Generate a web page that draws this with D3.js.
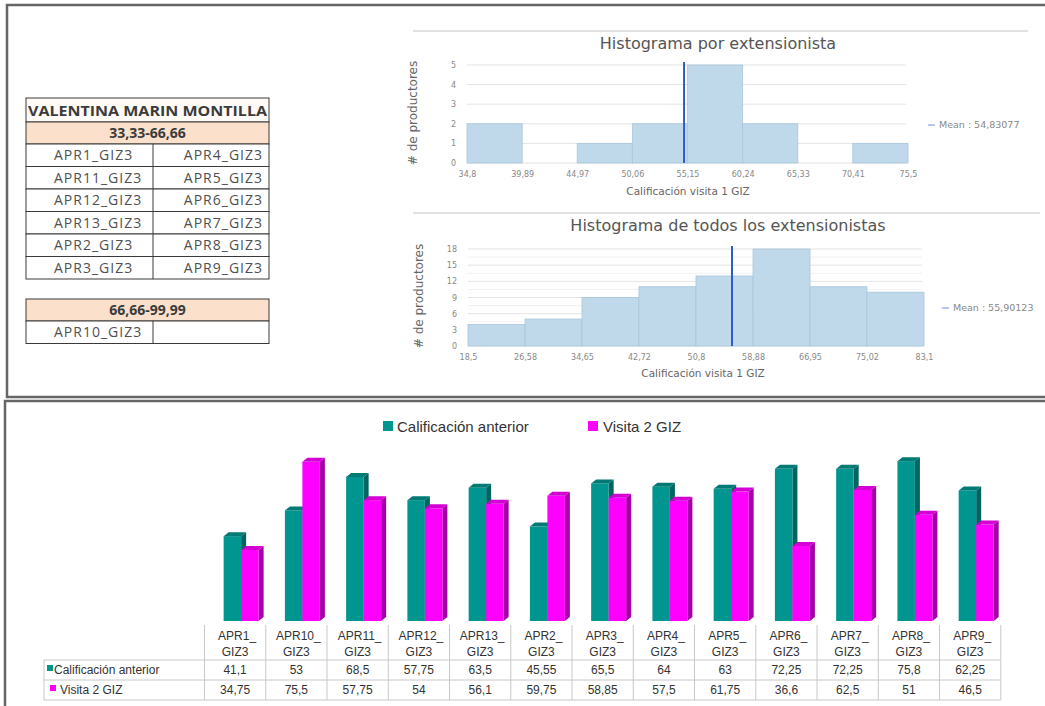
<!DOCTYPE html>
<html>
<head>
<meta charset="utf-8">
<script src="https://cdn.jsdelivr.net/npm/d3@7"></script>
<style>
  body { margin: 0; background: #fff; }
  svg { display: block; }
</style>
</head>
<body>
<div id="chart"></div>
<script>
// grupo del extensionista
const extName = 'VALENTINA MARIN MONTILLA';
const range1 = '33,33-66,66';
const range1Left = ['APR1_GIZ3', 'APR11_GIZ3', 'APR12_GIZ3', 'APR13_GIZ3', 'APR2_GIZ3', 'APR3_GIZ3'];
const range1Right = ['APR4_GIZ3', 'APR5_GIZ3', 'APR6_GIZ3', 'APR7_GIZ3', 'APR8_GIZ3', 'APR9_GIZ3'];
const range2 = '66,66-99,99';
const range2Left = ['APR10_GIZ3'];

// histogramas
const hist1Edges = [34.8, 39.89, 44.97, 50.06, 55.15, 60.24, 65.33, 70.41, 75.5];
const hist1Counts = [2, 0, 1, 2, 5, 2, 0, 1];
const hist1Mean = 54.83077;
const hist1YTicks = [0, 1, 2, 3, 4, 5];
const hist2Edges = [18.5, 26.58, 34.65, 42.72, 50.8, 58.88, 66.95, 75.02, 83.1];
const hist2Counts = [4, 5, 9, 11, 13, 18, 11, 10];
const hist2Mean = 55.90123;
const hist2YTicks = [0, 3, 6, 9, 12, 15, 18];

// barras
const categories = ['APR1_GIZ3', 'APR10_GIZ3', 'APR11_GIZ3', 'APR12_GIZ3', 'APR13_GIZ3', 'APR2_GIZ3', 'APR3_GIZ3',
                    'APR4_GIZ3', 'APR5_GIZ3', 'APR6_GIZ3', 'APR7_GIZ3', 'APR8_GIZ3', 'APR9_GIZ3'];
const anterior = [41.1, 53, 68.5, 57.75, 63.5, 45.55, 65.5, 64, 63, 72.25, 72.25, 75.8, 62.25];
const visita2 = [34.75, 75.5, 57.75, 54, 56.1, 59.75, 58.85, 57.5, 61.75, 36.6, 62.5, 51, 46.5];
const seriesNames = ['Calificación anterior', 'Visita 2 GIZ'];

const comma = d => String(d).replace('.', ',');

const w = 1045;
const h = 706;
const svg = d3.select('#chart').append('svg').attr('width', w).attr('height', h);

// marcos
svg.append('rect').attr('x', 7).attr('y', 5).attr('width', 1060).attr('height', 392)
   .attr('fill', 'none').attr('stroke', '#666').attr('stroke-width', 2.5);
svg.append('rect').attr('x', 5).attr('y', 401).attr('width', 1060).attr('height', 320)
   .attr('fill', 'none').attr('stroke', '#666').attr('stroke-width', 2.5);

// ---------- tabla del extensionista ----------
const tx0 = 26, tx1 = 269, tmid = 153;
const tbl = svg.append('g').attr('font-family', 'Open Sans, sans-serif');

function cellRow(y0, y1, fill) {
  tbl.append('rect').attr('x', tx0).attr('y', y0).attr('width', tx1 - tx0).attr('height', y1 - y0)
     .attr('fill', fill).attr('stroke', '#3a3a3a').attr('stroke-width', 1);
}

cellRow(98, 122, '#fffaf6');
tbl.append('text').text(extName).attr('x', tx0 + 2).attr('y', 116)
   .attr('textLength', tx1 - tx0 - 4).attr('lengthAdjust', 'spacingAndGlyphs')
   .attr('font-size', 15).attr('font-weight', 'bold').attr('fill', '#3b3b3b');

function rangeBlock(y, title, left, right) {
  cellRow(y, y + 22, '#fbe0cc');
  tbl.append('text').text(title).attr('x', (tx0 + tx1) / 2).attr('y', y + 16)
     .attr('text-anchor', 'middle').attr('font-size', 14).attr('font-weight', 'bold').attr('fill', '#3b3b3b');
  const rh = 22.5;
  left.forEach((d, i) => {
    const ry = y + 22 + i * rh;
    cellRow(ry, ry + rh, '#fff');
    tbl.append('line').attr('x1', tmid).attr('x2', tmid).attr('y1', ry).attr('y2', ry + rh)
       .attr('stroke', '#3a3a3a');
    tbl.append('text').text(d).attr('x', 54).attr('y', ry + 16)
       .attr('font-size', 14).attr('letter-spacing', 1).attr('fill', '#505050');
    if (right[i]) {
      tbl.append('text').text(right[i]).attr('x', 263).attr('y', ry + 16).attr('text-anchor', 'end')
         .attr('font-size', 14).attr('letter-spacing', 1).attr('fill', '#505050');
    }
  });
}
rangeBlock(122, range1, range1Left, range1Right);
rangeBlock(299, range2, range2Left, []);

// ---------- histogramas ----------
function histogram(o) {
  const g = svg.append('g').attr('font-family', 'DejaVu Sans, Verdana, sans-serif');
  const x = d3.scaleLinear().domain([o.edges[0], o.edges[o.edges.length - 1]]).range(o.xRange);
  const y = d3.scaleLinear().domain([0, d3.max(o.yTicks)]).range(o.yRange);

  g.append('line').attr('x1', 413).attr('x2', o.lineEnd).attr('y1', o.lineY).attr('y2', o.lineY)
   .attr('stroke', '#e2e2e2').attr('stroke-width', 2);
  g.append('text').text(o.title).attr('x', o.titleX).attr('y', o.lineY + 18)
   .attr('text-anchor', 'middle').attr('font-size', 16).attr('fill', '#555');

  // rejilla
  g.selectAll('.grid').data(o.grid).enter().append('line')
   .attr('x1', o.xRange[0]).attr('x2', o.xRange[1] - 2)
   .attr('y1', d => y(d)).attr('y2', d => y(d))
   .attr('stroke', d => o.yTicks.includes(d) ? '#e4e4e4' : '#f0f0f0').attr('stroke-width', 1);

  const bins = o.counts.map((c, i) => ({ x0: o.edges[i], x1: o.edges[i + 1], c: c }));
  g.selectAll('.bin').data(bins).enter().append('rect')
   .attr('x', d => x(d.x0)).attr('width', d => x(d.x1) - x(d.x0))
   .attr('y', d => y(d.c)).attr('height', d => y(0) - y(d.c))
   .attr('fill', '#bfd9ea').attr('stroke', '#a8c6da').attr('stroke-width', 0.8);

  g.append('line').attr('x1', x(o.mean)).attr('x2', x(o.mean))
   .attr('y1', y(d3.max(o.yTicks)) - 3).attr('y2', y(0))
   .attr('stroke', '#2f5ccc').attr('stroke-width', 2);

  const ya = g.append('g').attr('transform', 'translate(' + (o.xRange[0] - 9) + ',0)')
    .call(d3.axisLeft(y).tickValues(o.yTicks).tickSize(0).tickPadding(2).tickFormat(d3.format('d')));
  ya.select('.domain').remove();
  ya.selectAll('text').attr('font-size', 8).attr('fill', '#888').attr('font-family', 'DejaVu Sans, sans-serif');

  const xa = g.append('g').attr('transform', 'translate(0,' + y(0) + ')')
    .call(d3.axisBottom(x).tickValues(o.edges).tickSize(0).tickPadding(o.xPad).tickFormat(comma));
  xa.select('.domain').remove();
  xa.selectAll('text').attr('font-size', 8).attr('fill', '#888').attr('font-family', 'DejaVu Sans, sans-serif');

  g.append('text').text('Calificación visita 1 GIZ').attr('x', o.xTitleX).attr('y', o.xTitleY)
   .attr('text-anchor', 'middle').attr('font-size', 10.5).attr('fill', '#666');
  g.append('text').text('# de productores')
   .attr('transform', 'translate(' + o.yTitleX + ',' + o.yTitleY + ') rotate(-90)')
   .attr('text-anchor', 'middle').attr('font-size', 12).attr('fill', '#666');

  g.append('line').attr('x1', o.legX).attr('x2', o.legX + 7).attr('y1', o.legY - 3).attr('y2', o.legY - 3)
   .attr('stroke', '#9fb3e6').attr('stroke-width', 1.5);
  g.append('text').text('Mean : ' + comma(o.mean)).attr('x', o.legX + 11).attr('y', o.legY)
   .attr('font-size', 9.5).attr('fill', '#888');
}

histogram({
  edges: hist1Edges, counts: hist1Counts, mean: hist1Mean, yTicks: hist1YTicks, grid: hist1YTicks,
  xRange: [467, 908], yRange: [163, 65], xPad: 8,
  lineY: 31, lineEnd: 1028, title: 'Histograma por extensionista', titleX: 718,
  xTitleX: 688, xTitleY: 195, yTitleX: 417, yTitleY: 113, legX: 928, legY: 128
});
histogram({
  edges: hist2Edges, counts: hist2Counts, mean: hist2Mean, yTicks: hist2YTicks, grid: d3.range(0, 19, 1.5),
  xRange: [468, 924], yRange: [346, 249], xPad: 8,
  lineY: 213, lineEnd: 1040, title: 'Histograma de todos los extensionistas', titleX: 728,
  xTitleX: 703, xTitleY: 377, yTitleX: 423, yTitleY: 296, legX: 942, legY: 311
});

// ---------- barras 3D ----------
const bars = svg.append('g').attr('font-family', 'Liberation Sans, Arial, sans-serif');
const xBand = d3.scaleBand().domain(categories).range([204.5, 1000.8]);
const yBar = d3.scaleLinear().domain([0, 80]).range([625, 452.1]);
const base = 621;
const bw = 17.5, dx = 5, dy = 4;
const colors = [
  { front: '#00958e', side: '#006461', top: '#007a75' },
  { front: '#ff00ff', side: '#a800a8', top: '#d400d4' }
];

function bar3d(x0, v, c) {
  const yt = yBar(v);
  bars.append('polygon')
      .attr('points', [[x0 + bw, yt], [x0 + bw + dx, yt - dy], [x0 + bw + dx, base - dy], [x0 + bw, base]].join(' '))
      .attr('fill', c.side);
  bars.append('rect').attr('x', x0).attr('y', yt).attr('width', bw).attr('height', base - yt).attr('fill', c.front);
  bars.append('polygon')
      .attr('points', [[x0, yt], [x0 + dx, yt - dy], [x0 + bw + dx, yt - dy], [x0 + bw, yt]].join(' '))
      .attr('fill', c.top);
}
categories.forEach((cat, i) => {
  const cx = xBand(cat) + xBand.bandwidth() / 2;
  bar3d(cx - 11.5, anterior[i], colors[0]);
  bar3d(cx + 6, visita2[i], colors[1]);
});

// leyenda
bars.append('rect').attr('x', 383).attr('y', 421).attr('width', 10).attr('height', 10).attr('fill', colors[0].front);
bars.append('text').text(seriesNames[0]).attr('x', 397).attr('y', 432).attr('font-size', 15).attr('fill', '#333');
bars.append('rect').attr('x', 588).attr('y', 421).attr('width', 10).attr('height', 10).attr('fill', colors[1].front);
bars.append('text').text(seriesNames[1]).attr('x', 603).attr('y', 432).attr('font-size', 15).attr('fill', '#333');

// tabla de datos
const rowLines = [660, 680, 700];
rowLines.forEach(y => {
  bars.append('line').attr('x1', 44).attr('x2', 1000.8).attr('y1', y).attr('y2', y).attr('stroke', '#c8c8c8');
});
bars.append('line').attr('x1', 44).attr('x2', 44).attr('y1', 660).attr('y2', 700).attr('stroke', '#c8c8c8');
categories.concat(['end']).forEach((cat, i) => {
  const xx = i < categories.length ? xBand(cat) : xBand.range()[1];
  bars.append('line').attr('x1', xx).attr('x2', xx).attr('y1', 625).attr('y2', 700).attr('stroke', '#c8c8c8');
});
categories.forEach((cat, i) => {
  const cx = xBand(cat) + xBand.bandwidth() / 2;
  const parts = cat.split('_');
  bars.append('text').text(parts[0] + '_').attr('x', cx + 2).attr('y', 640).attr('text-anchor', 'middle')
      .attr('font-size', 12).attr('fill', '#333');
  bars.append('text').text(parts[1]).attr('x', cx).attr('y', 656).attr('text-anchor', 'middle')
      .attr('font-size', 12).attr('fill', '#333');
  bars.append('text').text(comma(anterior[i])).attr('x', cx).attr('y', 674).attr('text-anchor', 'middle')
      .attr('font-size', 12).attr('fill', '#333');
  bars.append('text').text(comma(visita2[i])).attr('x', cx).attr('y', 694).attr('text-anchor', 'middle')
      .attr('font-size', 12).attr('fill', '#333');
});
bars.append('rect').attr('x', 47).attr('y', 665).attr('width', 6).attr('height', 6).attr('fill', colors[0].front);
bars.append('text').text(seriesNames[0]).attr('x', 54).attr('y', 674).attr('font-size', 12).attr('fill', '#333');
bars.append('rect').attr('x', 50).attr('y', 685).attr('width', 6).attr('height', 6).attr('fill', colors[1].front);
bars.append('text').text(seriesNames[1]).attr('x', 60).attr('y', 694).attr('font-size', 12).attr('fill', '#333');
</script>
</body>
</html>
